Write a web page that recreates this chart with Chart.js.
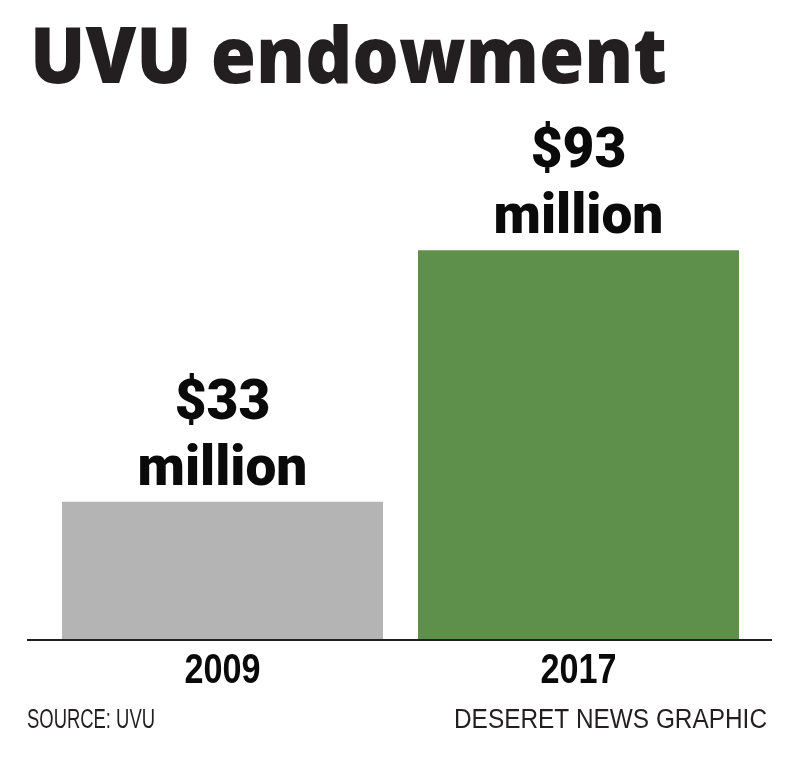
<!DOCTYPE html>
<html>
<head>
<meta charset="utf-8">
<script src="https://cdn.jsdelivr.net/npm/chart.js@4"></script>
<style>
  body { margin: 0; background: #fff; }
  #chart { display: block; }
</style>
</head>
<body>
<canvas id="chart" width="800" height="762"></canvas>
<script>
const years = ['2009', '2017'];
const endowment = [33, 93]; // millions of dollars
const barColors = ['#b4b4b4', '#5e8f4b'];
const unitLabel = 'million';
const titleText = 'UVU endowment';
const sourceText = 'SOURCE: UVU';
const creditText = 'DESERET NEWS GRAPHIC';

const ink = '#231f20';

// title, baseline, value labels, year labels and footer
const decorations = {
    id: 'decorations',
    afterDatasetsDraw(chart) {
        const ctx = chart.ctx;
        const area = chart.chartArea;
        const xScale = chart.scales.x;
        ctx.save();

        // baseline runs wider than the bars
        ctx.strokeStyle = ink;
        ctx.lineWidth = 2;
        ctx.beginPath();
        ctx.moveTo(27, area.bottom);
        ctx.lineTo(772, area.bottom);
        ctx.stroke();

        // value labels above bars
        ctx.fillStyle = '#0a0a0a';
        ctx.textAlign = 'center';
        ctx.textBaseline = 'alphabetic';
        ctx.font = '900 55px Roboto, "Liberation Sans", sans-serif';
        const bars = chart.getDatasetMeta(0).data;
        bars.forEach((bar, i) => {
            ctx.fillText('$' + endowment[i], bar.x, bar.y - 83);
            ctx.fillText(unitLabel, bar.x, bar.y - 17);
        });

        // category labels (condensed, so drawn here with a max width)
        ctx.font = 'bold 43px "Liberation Sans", Arial, sans-serif';
        years.forEach((y, i) => {
            ctx.fillText(y, xScale.getPixelForTick(i), area.bottom + 43, 76);
        });

        // title
        ctx.fillStyle = ink;
        ctx.textAlign = 'left';
        ctx.font = '800 78px "Open Sans", Lato, sans-serif';
        ctx.fillText(titleText, 30, 83, 637);

        // footer
        ctx.font = '27px "Liberation Sans", sans-serif';
        ctx.fillText(sourceText, 27, 728, 128);
        ctx.textAlign = 'right';
        ctx.fillText(creditText, 767, 728, 313);

        ctx.restore();
    }
};

new Chart(document.getElementById('chart'), {
    type: 'bar',
    data: {
        labels: years,
        datasets: [{
            data: endowment,
            backgroundColor: barColors,
            borderWidth: 0,
            barPercentage: 0.9017,
            categoryPercentage: 1
        }]
    },
    options: {
        responsive: false,
        animation: false,
        layout: {
            padding: { left: 44.5, right: 43.5, top: 221, bottom: 122 }
        },
        plugins: {
            legend: { display: false },
            tooltip: { enabled: false }
        },
        scales: {
            x: {
                grid: { display: false, drawTicks: false, tickLength: 0 },
                border: { display: false },
                ticks: { display: false }
            },
            y: {
                display: false,
                min: 0,
                max: 100
            }
        }
    },
    plugins: [decorations]
});
</script>
</body>
</html>
